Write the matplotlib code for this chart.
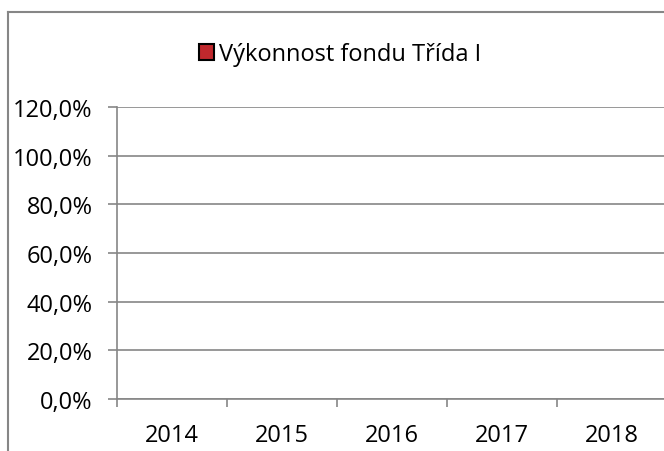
import numpy as np
import matplotlib.pyplot as plt
from matplotlib.patches import Patch
from matplotlib.lines import Line2D
from matplotlib.ticker import FuncFormatter, MultipleLocator

years = ['2014', '2015', '2016', '2017', '2018']
vykonnost = [np.nan, np.nan, np.nan, np.nan, np.nan]  # no data shown
serie = 'Výkonnost fondu Třída I'

plt.rcParams['font.family'] = ['Open Sans', 'DejaVu Sans']
W, H = 664, 452
fig = plt.figure(figsize=(W / 100, H / 100), dpi=100)
grey = '#868686'

# plot area in pixel terms
x0, x1, y0, y1 = 117, 667, 400, 108
ax = fig.add_axes([x0 / W, 1 - y0 / H, (x1 - x0) / W, (y0 - y1) / H])
pos = np.arange(len(years))
ax.bar(pos, vykonnost, width=0.6, color='#C0282D', edgecolor='black', label=serie)
ax.set_xlim(-0.5, len(years) - 0.5)
ax.set_ylim(0, 1.2)
ax.yaxis.set_major_locator(MultipleLocator(0.2))
ax.yaxis.set_major_formatter(FuncFormatter(lambda v, p: f'{v*100:.1f}%'.replace('.', ',')))
ax.set_xticks(pos)
ax.set_xticklabels(years)
ax.set_xticks(np.arange(len(years) + 1) - 0.5, minor=True)
ax.tick_params(axis='x', which='major', length=0, pad=17, labelsize=17)
ax.tick_params(axis='x', which='minor', length=6, color=grey, width=1.2)
ax.tick_params(axis='y', length=6.5, color=grey, width=1.2, labelsize=17, pad=11)
ax.grid(axis='y', color=grey, linewidth=1.2)
ax.set_axisbelow(True)
for s in ['top', 'right']:
    ax.spines[s].set_visible(False)
ax.spines['left'].set_color(grey)
ax.spines['bottom'].set_color(grey)
ax.spines['left'].set_linewidth(1.2)
ax.spines['bottom'].set_linewidth(1.2)

handle = Patch(facecolor='#C0282D', edgecolor='black', linewidth=1.5)
fig.legend([handle], [serie], loc='center', bbox_to_anchor=(340 / W, 1 - 55 / H),
           frameon=False, fontsize=17, handlelength=0.65, handleheight=0.65,
           handletextpad=0.2)

# outer chart frame
fig.add_artist(Line2D([8 / W, 1], [1 - 13 / H, 1 - 13 / H], color=grey, lw=1.5))
fig.add_artist(Line2D([8 / W, 8 / W], [0, 1 - 13 / H], color=grey, lw=1.5))

fig.savefig('out.png', dpi=100)
